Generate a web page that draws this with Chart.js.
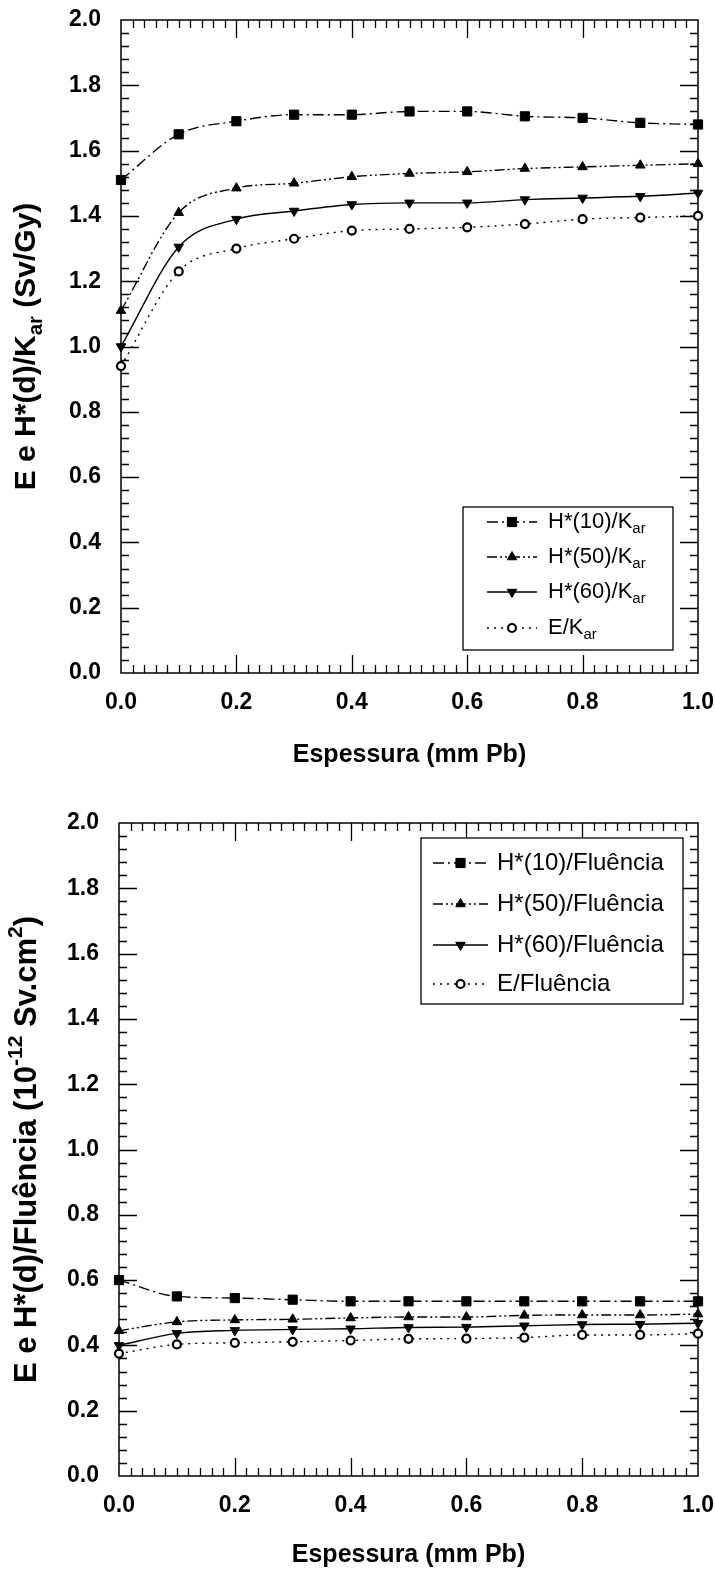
<!DOCTYPE html>
<html>
<head>
<meta charset="utf-8">
<script src="https://cdn.jsdelivr.net/npm/chart.js@4.4.1/dist/chart.umd.min.js"></script>
<style>
html, body { margin: 0; padding: 0; background: #fff; }
.panel { position: relative; width: 715px; height: 786px; }
</style>
</head>
<body>
<div class="panel"><canvas id="chartKar"></canvas></div>
<div class="panel"><canvas id="chartFlu"></canvas></div>
<script>
// -------- Data --------
const espessura = [0, 0.1, 0.2, 0.3, 0.4, 0.5, 0.6, 0.7, 0.8, 0.9, 1.0];

// top panel: per air kerma (Sv/Gy)
const h10Kar = [1.51, 1.65, 1.69, 1.71, 1.71, 1.72, 1.72, 1.705, 1.70, 1.685, 1.68];
const h50Kar = [1.11, 1.41, 1.485, 1.50, 1.52, 1.53, 1.535, 1.545, 1.55, 1.555, 1.56];
const h60Kar = [1.00, 1.305, 1.39, 1.415, 1.435, 1.44, 1.44, 1.45, 1.455, 1.46, 1.47];
const eKar   = [0.94, 1.23, 1.30, 1.33, 1.355, 1.36, 1.365, 1.375, 1.39, 1.395, 1.40];

// bottom panel: per fluence (1e-12 Sv.cm2)
const h10Flu = [0.60, 0.55, 0.545, 0.54, 0.535, 0.535, 0.535, 0.535, 0.535, 0.535, 0.535];
const h50Flu = [0.445, 0.472, 0.478, 0.48, 0.484, 0.487, 0.487, 0.492, 0.493, 0.493, 0.496];
const h60Flu = [0.40, 0.437, 0.446, 0.449, 0.451, 0.455, 0.456, 0.46, 0.464, 0.465, 0.468];
const eFlu   = [0.375, 0.403, 0.408, 0.411, 0.415, 0.42, 0.421, 0.424, 0.432, 0.432, 0.436];

const xTicks = [0, 0.2, 0.4, 0.6, 0.8, 1.0];
const yTicks = [0, 0.2, 0.4, 0.6, 0.8, 1.0, 1.2, 1.4, 1.6, 1.8, 2.0];

const xTitle = "Espessura (mm Pb)";
const yTitleKar = [{t: "E e H*(d)/K"}, {t: "ar", sub: true}, {t: " (Sv/Gy)"}];
const yTitleFlu = [{t: "E e H*(d)/Flu\u00eancia (10"}, {t: "-12", sup: true}, {t: " Sv.cm"}, {t: "2", sup: true}, {t: ")"}];

const legendKar = [
    [{t: "H*(10)/K"}, {t: "ar", sub: true}],
    [{t: "H*(50)/K"}, {t: "ar", sub: true}],
    [{t: "H*(60)/K"}, {t: "ar", sub: true}],
    [{t: "E/K"}, {t: "ar", sub: true}]
];
const legendFlu = [
    [{t: "H*(10)/Flu\u00eancia"}],
    [{t: "H*(50)/Flu\u00eancia"}],
    [{t: "H*(60)/Flu\u00eancia"}],
    [{t: "E/Flu\u00eancia"}]
];

const FONT = "'Liberation Sans', Arial, sans-serif";
const INK = "#000";

// -------- Series styles --------
const seriesStyles = [
    { dash: [11, 4, 2, 4], point: "rect", radius: 6.5, rot: 0, fill: INK },
    { dash: [10, 3, 2, 3, 2, 3], point: "triangle", radius: 5.5, rot: 0, fill: INK },
    { dash: [], point: "triangle", radius: 5.5, rot: 180, fill: INK },
    { dash: [2, 5], point: "circle", radius: 4, rot: 0, fill: "#fff" }
];

function makeDatasets(seriesList) {
    return seriesList.map((vals, i) => {
        const s = seriesStyles[i];
        return {
            data: espessura.map((x, j) => ({ x: x, y: vals[j] })),
            borderColor: INK,
            borderWidth: 1.4,
            borderDash: s.dash,
            cubicInterpolationMode: "monotone",
            pointStyle: s.point,
            pointRadius: s.radius,
            pointRotation: s.rot,
            pointBackgroundColor: s.fill,
            pointBorderColor: INK,
            pointBorderWidth: s.point === "circle" ? 2.2 : 1,
            clip: false,
            fill: false
        };
    });
}

// -------- Rich text (sub / superscripts) --------
function richWidth(ctx, parts, size, weight) {
    let w = 0;
    parts.forEach(p => {
        const sz = (p.sub || p.sup) ? size * 0.68 : size;
        ctx.font = `${weight} ${sz}px ${FONT}`;
        w += ctx.measureText(p.t).width;
    });
    return w;
}

function drawRich(ctx, parts, x, y, size, weight, align) {
    const w = richWidth(ctx, parts, size, weight);
    let cx = align === "center" ? x - w / 2 : x;
    ctx.textAlign = "left";
    ctx.textBaseline = "middle";
    parts.forEach(p => {
        const sz = (p.sub || p.sup) ? size * 0.68 : size;
        ctx.font = `${weight} ${sz}px ${FONT}`;
        let dy = 0;
        if (p.sub) dy = size * 0.32;
        if (p.sup) dy = -size * 0.34;
        ctx.fillText(p.t, cx, y + dy);
        cx += ctx.measureText(p.t).width;
    });
}

function drawMarker(ctx, s, x, y) {
    ctx.save();
    ctx.fillStyle = s.fill;
    ctx.strokeStyle = INK;
    ctx.setLineDash([]);
    ctx.beginPath();
    if (s.point === "rect") {
        const h = s.radius * Math.SQRT1_2;
        ctx.rect(x - h, y - h, 2 * h, 2 * h);
        ctx.lineWidth = 1;
    } else if (s.point === "triangle") {
        const r = s.radius;
        const sgn = s.rot === 180 ? -1 : 1;
        ctx.moveTo(x, y - sgn * r);
        ctx.lineTo(x - r * 0.866, y + sgn * r * 0.5);
        ctx.lineTo(x + r * 0.866, y + sgn * r * 0.5);
        ctx.closePath();
        ctx.lineWidth = 1;
    } else {
        ctx.arc(x, y, s.radius, 0, Math.PI * 2);
        ctx.lineWidth = 2.2;
    }
    ctx.fill();
    ctx.stroke();
    ctx.restore();
}

// -------- Frame, inward ticks, titles, legend --------
const framePlugin = {
    id: "framePlugin",
    beforeDatasetsDraw(chart) {
        const { ctx, chartArea: a, scales } = chart;
        const xs = scales.x, ys = scales.y;
        ctx.save();
        ctx.strokeStyle = INK;
        ctx.lineWidth = 1.5;
        ctx.strokeRect(a.left, a.top, a.right - a.left, a.bottom - a.top);
        ctx.lineWidth = 1.3;
        ctx.beginPath();
        for (let i = 1; i < 50; i++) {
            const px = Math.round(xs.getPixelForValue(i * 0.02)) + 0.5;
            const len = i % 10 === 0 ? 18 : 8;
            ctx.moveTo(px, a.bottom); ctx.lineTo(px, a.bottom - len);
            ctx.moveTo(px, a.top); ctx.lineTo(px, a.top + len);
        }
        for (let i = 1; i < 50; i++) {
            const py = Math.round(ys.getPixelForValue(i * 0.04)) + 0.5;
            const len = i % 5 === 0 ? 18 : 8;
            ctx.moveTo(a.left, py); ctx.lineTo(a.left + len, py);
            ctx.moveTo(a.right, py); ctx.lineTo(a.right - len, py);
        }
        ctx.stroke();
        ctx.restore();
    },
    afterDraw(chart, args, opts) {
        const { ctx, chartArea: a } = chart;
        ctx.save();
        ctx.fillStyle = INK;
        // x title
        drawRich(ctx, [{t: xTitle}], (a.left + a.right) / 2, opts.xTitleY, 25, "bold", "center");
        // y title
        ctx.save();
        ctx.translate(opts.yTitleX, (a.top + a.bottom) / 2);
        ctx.rotate(-Math.PI / 2);
        drawRich(ctx, opts.yTitle, 0, 0, opts.yTitleSize, "bold", "center");
        ctx.restore();
        // legend box
        const L = opts.legend;
        ctx.strokeStyle = INK;
        ctx.lineWidth = 1.3;
        ctx.fillStyle = "#fff";
        ctx.fillRect(L.left, L.top, L.right - L.left, L.bottom - L.top);
        ctx.strokeRect(L.left, L.top, L.right - L.left, L.bottom - L.top);
        L.labels.forEach((parts, i) => {
            const s = seriesStyles[i];
            const y = L.rows[i];
            ctx.save();
            ctx.strokeStyle = INK;
            ctx.lineWidth = 1.4;
            ctx.setLineDash(s.dash);
            ctx.beginPath();
            ctx.moveTo(L.x0, y); ctx.lineTo(L.x1, y);
            ctx.stroke();
            ctx.restore();
            drawMarker(ctx, s, (L.x0 + L.x1) / 2, y);
            ctx.fillStyle = INK;
            drawRich(ctx, parts, L.textX, y, L.size, "normal", "left");
        });
        ctx.restore();
    }
};

function buildChart(id, seriesList, geo) {
    return new Chart(document.getElementById(id), {
        type: "line",
        data: { datasets: makeDatasets(seriesList) },
        plugins: [framePlugin],
        options: {
            responsive: true,
            maintainAspectRatio: false,
            animation: false,
            layout: { padding: { top: geo.top, right: geo.right, bottom: 0, left: 0 } },
            plugins: {
                legend: { display: false },
                tooltip: { enabled: false },
                framePlugin: geo.deco
            },
            scales: {
                x: {
                    type: "linear",
                    min: 0, max: 1,
                    afterBuildTicks: s => { s.ticks = xTicks.map(v => ({ value: v })); },
                    afterFit: s => {
                        s.height = geo.xHeight;
                        s.paddingLeft = 0; s.paddingRight = 0;
                    },
                    grid: { display: false, drawTicks: false },
                    border: { display: false },
                    ticks: {
                        padding: 16,
                        color: INK,
                        maxRotation: 0,
                        font: { family: FONT, size: 23, weight: "bold" },
                        callback: v => v.toFixed(1)
                    }
                },
                y: {
                    type: "linear",
                    min: 0, max: 2,
                    afterBuildTicks: s => { s.ticks = yTicks.map(v => ({ value: v })); },
                    afterFit: s => {
                        s.width = geo.left;
                        s.paddingTop = 0; s.paddingBottom = 0;
                    },
                    grid: { display: false, drawTicks: false },
                    border: { display: false },
                    ticks: {
                        padding: 20,
                        color: INK,
                        font: { family: FONT, size: 23, weight: "bold" },
                        callback: v => v.toFixed(1)
                    }
                }
            }
        }
    });
}

buildChart("chartKar", [h10Kar, h50Kar, h60Kar, eKar], {
    top: 20, right: 17, left: 121, xHeight: 113,
    deco: {
        xTitleY: 755, yTitleX: 27, yTitle: yTitleKar, yTitleSize: 30,
        legend: {
            left: 463, right: 673, top: 507, bottom: 650,
            rows: [522, 557, 592, 628], x0: 487, x1: 537, textX: 548, size: 22,
            labels: legendKar
        }
    }
});

buildChart("chartFlu", [h10Flu, h50Flu, h60Flu, eFlu], {
    top: 37, right: 17, left: 119, xHeight: 96,
    deco: {
        xTitleY: 769, yTitleX: 27, yTitle: yTitleFlu, yTitleSize: 31,
        legend: {
            left: 421, right: 683, top: 52, bottom: 218,
            rows: [77, 118, 159, 198], x0: 433, x1: 488, textX: 497, size: 24,
            labels: legendFlu
        }
    }
});
</script>
</body>
</html>
